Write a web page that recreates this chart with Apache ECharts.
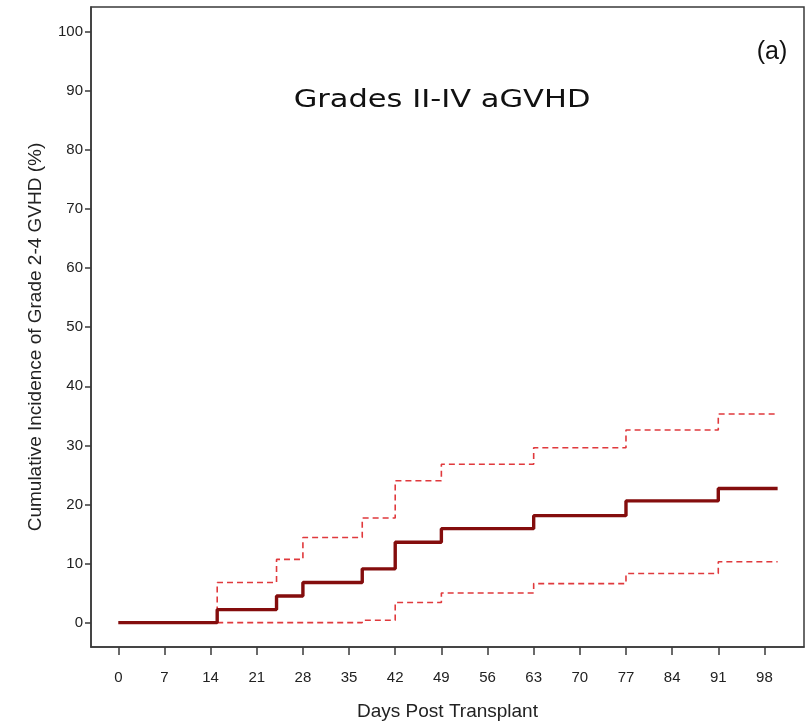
<!DOCTYPE html>
<html>
<head>
<meta charset="utf-8">
<script src="https://cdn.jsdelivr.net/npm/echarts@6/dist/echarts.min.js"></script>
<style>
html,body{margin:0;padding:0;background:#fff;}
#chart{width:811px;height:722px;}
</style>
</head>
<body>
<div id="chart"></div>
<script>
// Data
var xTicks = [0, 7, 14, 21, 28, 35, 42, 49, 56, 63, 70, 77, 84, 91, 98];
var yTicks = [0, 10, 20, 30, 40, 50, 60, 70, 80, 90, 100];

var mainDays = [0, 15, 24, 28, 37, 42, 49, 63, 77, 91, 100];
var mainVals = [0, 2.2, 4.5, 6.8, 9.1, 13.6, 15.9, 18.1, 20.6, 22.7, 22.7];

var upperDays = [15, 15, 24, 28, 37, 42, 49, 63, 77, 91, 100];
var upperVals = [0, 6.8, 10.7, 14.4, 17.7, 24.0, 26.8, 29.6, 32.6, 35.3, 35.3];

var lowerDays = [15, 37, 42, 49, 63, 77, 91, 100];
var lowerVals = [0, 0.4, 3.4, 5.0, 6.6, 8.3, 10.3, 10.3];

function zip(a, b) { return a.map(function (v, i) { return [v, b[i]]; }); }

var chart = echarts.init(document.getElementById('chart'), null, {renderer: 'canvas'});
var labelFont = 'Liberation Sans, Arial, sans-serif';
var option = {
  animation: false,
  backgroundColor: '#ffffff',
  grid: {left: 91, right: 7, top: 7, bottom: 75, outerBoundsMode: 'none', containLabel: false,
         show: true, borderColor: '#3a3a3a', borderWidth: 1.5, backgroundColor: 'transparent'},
  xAxis: {
    type: 'value', min: -4.14, max: 104,
    name: 'Days Post Transplant', nameLocation: 'middle', nameGap: 55,
    nameTextStyle: {fontFamily: labelFont, fontSize: 19, color: '#222'},
    axisLine: {show: true, onZero: false, lineStyle: {color: '#3a3a3a', width: 1.5}},
    axisTick: {show: true, customValues: xTicks, length: 8, lineStyle: {color: '#3a3a3a', width: 1.5}},
    axisLabel: {customValues: xTicks, margin: 23, fontFamily: labelFont, fontSize: 15, color: '#222'},
    splitLine: {show: false}
  },
  yAxis: {
    type: 'value', min: -4.13, max: 104.2,
    axisLine: {show: true, onZero: false, lineStyle: {color: '#3a3a3a', width: 1.5}},
    axisTick: {show: true, customValues: yTicks, length: 6, lineStyle: {color: '#3a3a3a', width: 1.5}},
    axisLabel: {customValues: yTicks, margin: 8, fontFamily: labelFont, fontSize: 15, color: '#222'},
    splitLine: {show: false}
  },
  series: [
    {type: 'line', name: 'upper', step: 'end', symbol: 'none', z: 2, data: zip(upperDays, upperVals),
     lineStyle: {color: '#e0393c', width: 1.6, type: [6, 4]}},
    {type: 'line', name: 'lower', step: 'end', symbol: 'none', z: 2, data: zip(lowerDays, lowerVals),
     lineStyle: {color: '#e0393c', width: 1.6, type: [6, 4]}},
    {type: 'line', name: 'main', step: 'end', symbol: 'none', z: 3, data: zip(mainDays, mainVals),
     lineStyle: {color: '#840d0d', width: 3.4}}
  ],
  graphic: [
    {type: 'text', x: 442, y: 100, scaleX: 1.22,
     style: {text: 'Grades II-IV aGVHD', fontFamily: 'DejaVu Sans, Verdana, sans-serif', fontSize: 25, fill: '#111', align: 'center', verticalAlign: 'middle'}},
    {type: 'text', x: 772, y: 52,
     style: {text: '(a)', fontFamily: labelFont, fontSize: 25, fill: '#111', align: 'center', verticalAlign: 'middle'}},
    {type: 'text', x: 36, y: 337, rotation: Math.PI / 2,
     style: {text: 'Cumulative Incidence of Grade 2-4 GVHD (%)', fontFamily: labelFont, fontSize: 19, fill: '#222', align: 'center', verticalAlign: 'middle'}}
  ]
};
chart.setOption(option);
</script>
</body>
</html>
